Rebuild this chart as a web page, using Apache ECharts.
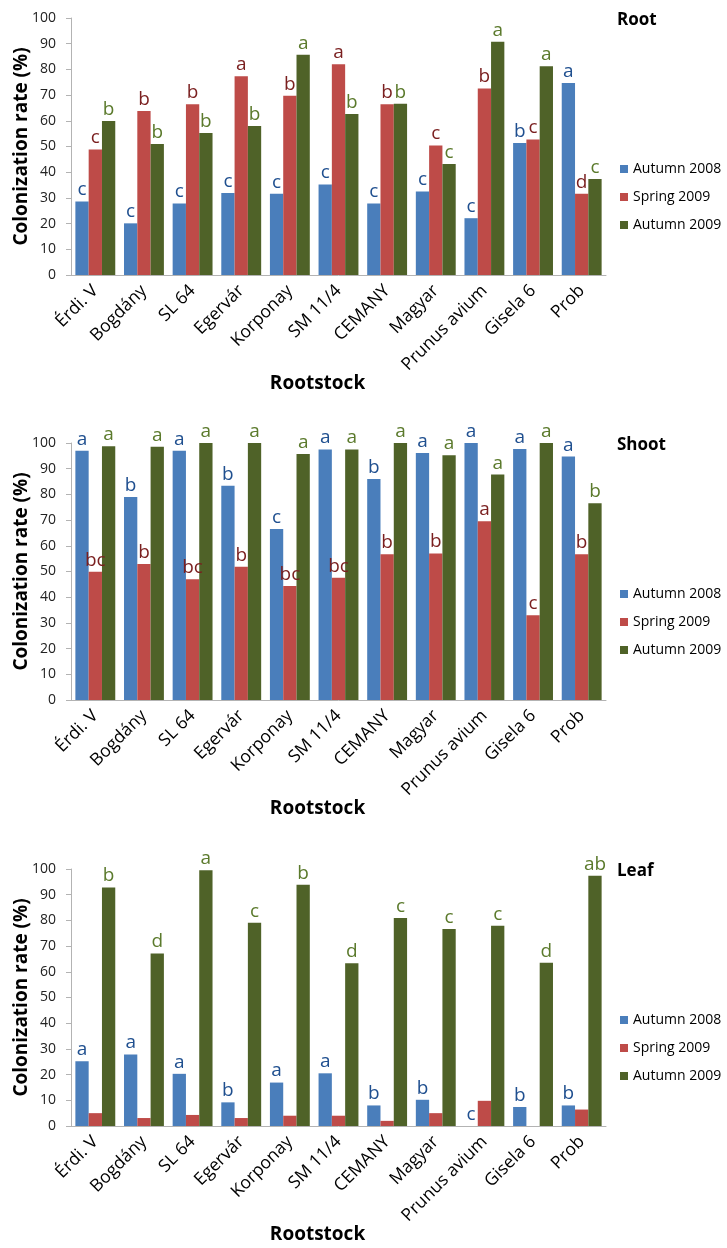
<!DOCTYPE html>
<html>
<head>
<meta charset="utf-8">
<script src="https://cdn.jsdelivr.net/npm/echarts@6/dist/echarts.min.js"></script>
<style>
  html, body { margin: 0; padding: 0; background: #fff; }
  #chart { width: 727px; height: 1248px; }
</style>
</head>
<body>
<div id="chart"></div>
<script>
// Rootstocks on the category axis
const categories = ['Érdi. V', 'Bogdány', 'SL 64', 'Egervár', 'Korponay', 'SM 11/4', 'CEMANY', 'Magyar', 'Prunus avium', 'Gisela 6', 'Prob'];
const seriesNames = ['Autumn 2008', 'Spring 2009', 'Autumn 2009'];
const yTicks = [0, 10, 20, 30, 40, 50, 60, 70, 80, 90, 100];

// Root colonization rate (%)
const rootAutumn2008 = [28.6, 20.1, 27.8, 31.9, 31.6, 35.2, 27.8, 32.5, 22.1, 51.4, 74.7];
const rootSpring2009 = [48.8, 63.8, 66.4, 77.3, 69.7, 82.0, 66.4, 50.4, 72.6, 52.7, 31.6];
const rootAutumn2009 = [59.9, 51.0, 55.3, 58.0, 85.7, 62.6, 66.6, 43.2, 90.8, 81.2, 37.4];
const rootLettersA08 = ['c', 'c', 'c', 'c', 'c', 'c', 'c', 'c', 'c', 'b', 'a'];
const rootLettersS09 = ['c', 'b', 'b', 'a', 'b', 'a', 'b', 'c', 'b', 'c', 'd'];
const rootLettersA09 = ['b', 'b', 'b', 'b', 'a', 'b', 'b', 'c', 'a', 'a', 'c'];

// Shoot colonization rate (%)
const shootAutumn2008 = [97.0, 79.0, 97.0, 83.4, 66.5, 97.5, 86.0, 96.1, 100, 97.7, 94.7];
const shootSpring2009 = [49.9, 52.9, 47.0, 51.8, 44.4, 47.6, 56.7, 57.0, 69.6, 33.0, 56.7];
const shootAutumn2009 = [98.7, 98.5, 100, 100, 95.7, 97.5, 100, 95.2, 87.7, 100, 76.6];
const shootLettersA08 = ['a', 'b', 'a', 'b', 'c', 'a', 'b', 'a', 'a', 'a', 'a'];
const shootLettersS09 = ['bc', 'b', 'bc', 'b', 'bc', 'bc', 'b', 'b', 'a', 'c', 'b'];
const shootLettersA09 = ['a', 'a', 'a', 'a', 'a', 'a', 'a', 'a', 'a', 'a', 'b'];

// Leaf colonization rate (%)
const leafAutumn2008 = [25.2, 27.8, 20.3, 9.2, 16.9, 20.5, 8.0, 10.2, 0, 7.4, 8.0];
const leafSpring2009 = [5.0, 3.1, 4.3, 3.1, 4.0, 4.0, 2.0, 5.0, 9.8, 0, 6.4];
const leafAutumn2009 = [92.8, 67.1, 99.5, 79.1, 93.9, 63.3, 80.9, 76.7, 77.9, 63.5, 97.4];
const leafLettersA08 = ['a', 'a', 'a', 'b', 'a', 'a', 'b', 'b', 'c', 'b', 'b'];
const leafLettersS09 = ['', '', '', '', '', '', '', '', '', '', ''];
const leafLettersA09 = ['b', 'd', 'a', 'c', 'b', 'd', 'c', 'c', 'c', 'd', 'ab'];

const panelTitles = ['Root', 'Shoot', 'Leaf'];

const FONT = '"Open Sans", "Noto Sans", sans-serif';
const barColors = ['#4a7ebb', '#be4b48', '#4f6228'];
const letterColors = ['#1f4f8f', '#7a1f1f', '#5b7a2c'];

const panels = [
  { values: [rootAutumn2008, rootSpring2009, rootAutumn2009], letters: [rootLettersA08, rootLettersS09, rootLettersA09], top: 18 },
  { values: [shootAutumn2008, shootSpring2009, shootAutumn2009], letters: [shootLettersA08, shootLettersS09, shootLettersA09], top: 443 },
  { values: [leafAutumn2008, leafSpring2009, leafAutumn2009], letters: [leafLettersA08, leafLettersS09, leafLettersA09], top: 869 }
];

const grid = [], xAxis = [], yAxis = [], series = [], legend = [], title = [];

panels.forEach((p, i) => {
  grid.push({ left: 71, top: p.top, width: 535, height: 257 });

  xAxis.push({
    type: 'category',
    gridIndex: i,
    data: categories,
    name: 'Rootstock',
    nameLocation: 'middle',
    nameGap: 99,
    nameMoveOverlap: false,
    nameTextStyle: { fontFamily: FONT, fontWeight: 'bold', fontSize: 19, color: '#000', padding: [0, 42, 0, 0] },
    axisLine: { lineStyle: { color: '#b3b3b3' } },
    axisTick: { length: 6, lineStyle: { color: '#b3b3b3' } },
    axisLabel: { rotate: 45, margin: 13, fontFamily: FONT, fontSize: 17.5, color: '#000', interval: 0 },
    splitLine: { show: false }
  });

  yAxis.push({
    type: 'value',
    gridIndex: i,
    min: yTicks[0],
    max: yTicks[yTicks.length - 1],
    interval: yTicks[1] - yTicks[0],
    name: 'Colonization rate (%)',
    nameLocation: 'middle',
    nameGap: 40,
    nameMoveOverlap: false,
    nameTextStyle: { fontFamily: FONT, fontWeight: 'bold', fontSize: 19, color: '#000' },
    axisLine: { show: true, lineStyle: { color: '#b3b3b3' } },
    axisTick: { show: true, length: 5, lineStyle: { color: '#b3b3b3' } },
    axisLabel: { fontFamily: FONT, fontSize: 14, color: '#222', margin: 15 },
    splitLine: { show: false }
  });

  seriesNames.forEach((name, s) => {
    const letters = p.letters[s];
    series.push({
      type: 'bar',
      name: name,
      xAxisIndex: i,
      yAxisIndex: i,
      data: p.values[s],
      barGap: '0%',
      barCategoryGap: '18%',
      itemStyle: { color: barColors[s] },
      label: {
        show: true,
        position: 'top',
        distance: 2,
        fontFamily: FONT,
        fontSize: 19,
        color: letterColors[s],
        formatter: (d) => letters[d.dataIndex]
      }
    });
  });

  legend.push({
    orient: 'vertical',
    left: 615,
    top: p.top + 138,
    itemWidth: 8,
    itemHeight: 8,
    itemGap: 12,
    icon: 'rect',
    data: seriesNames,
    textStyle: { fontFamily: FONT, fontSize: 14, color: '#000', lineHeight: 16 }
  });

  title.push({
    text: panelTitles[i],
    left: 612,
    top: p.top - 11,
    textStyle: { fontFamily: FONT, fontWeight: 'bold', fontSize: 17, color: '#000' }
  });
});

const chart = echarts.init(document.getElementById('chart'), null, { renderer: 'canvas' });
chart.setOption({
  animation: false,
  backgroundColor: '#fff',
  title, grid, xAxis, yAxis, legend, series
});
</script>
</body>
</html>
